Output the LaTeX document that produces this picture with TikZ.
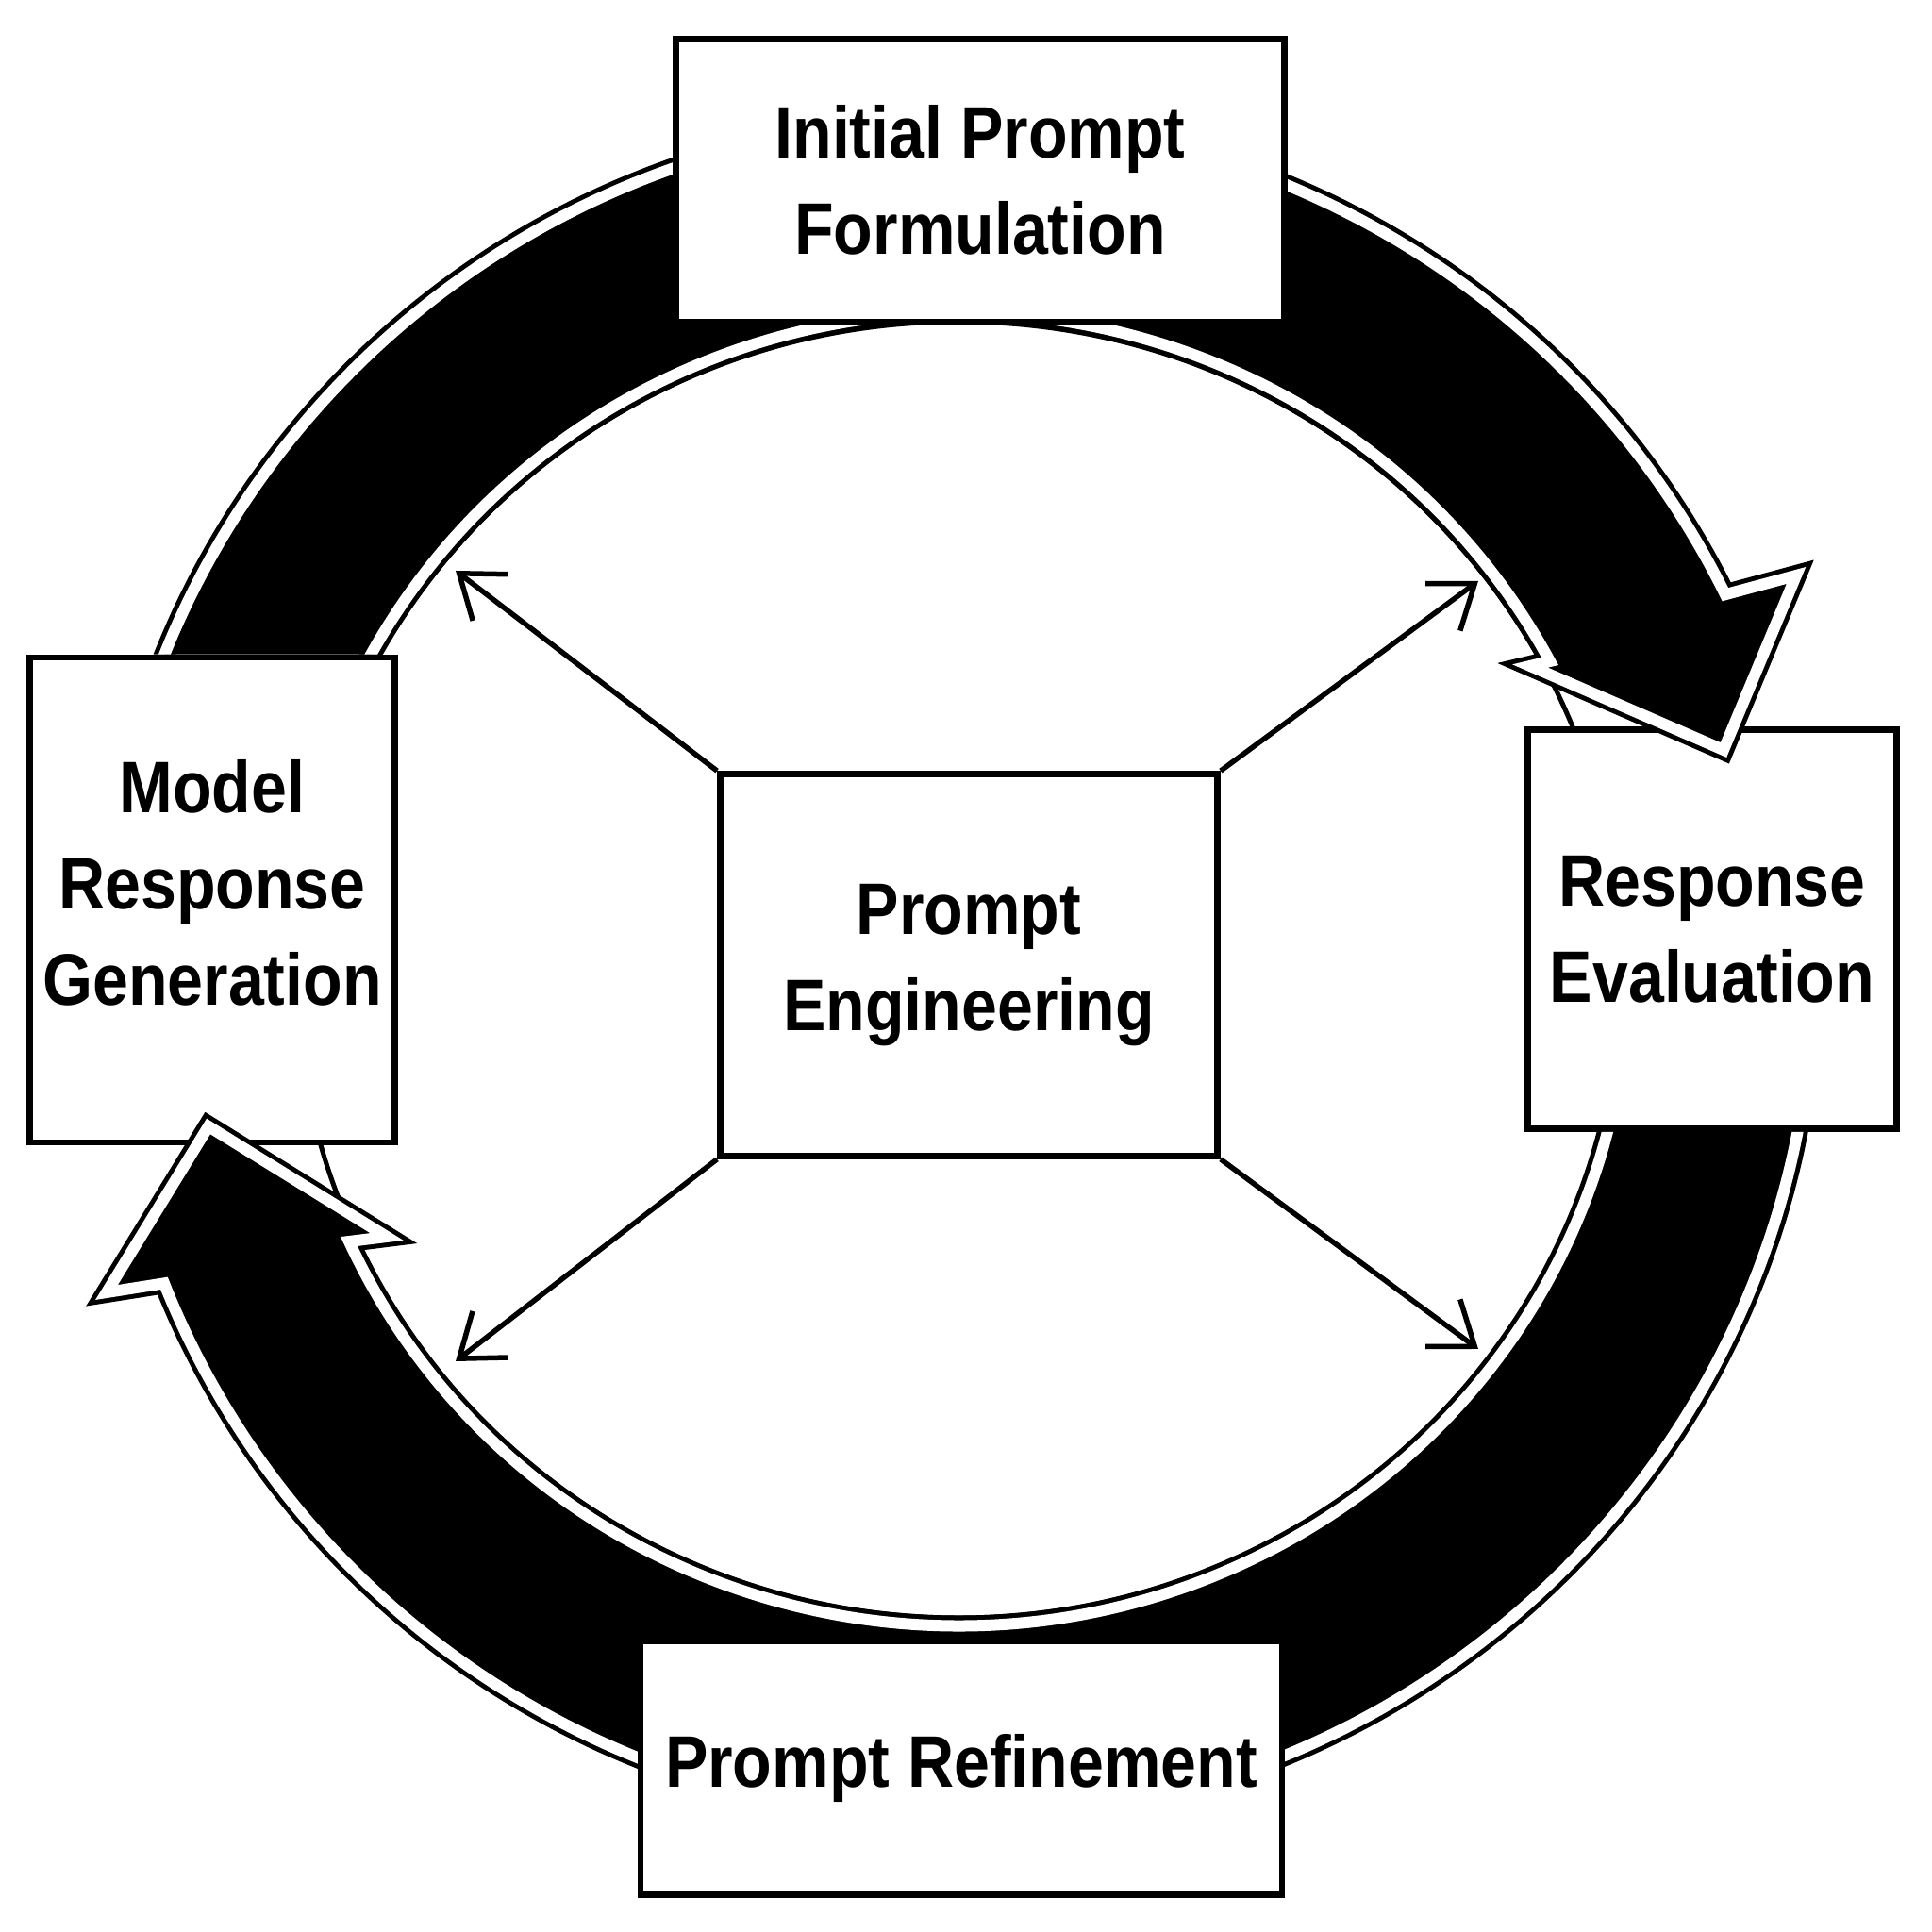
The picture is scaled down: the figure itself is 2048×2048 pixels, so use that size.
\documentclass[tikz,border=0pt]{standalone}
\usepackage{fontspec}
\setmainfont{Liberation Sans}[FakeStretch=0.88]
\usetikzlibrary{arrows.meta,calc}

\begin{document}
\begin{tikzpicture}[
    x=0.01cm, y=0.01cm,
    box/.style={rectangle, draw=black, fill=white, line width=0.065cm, align=center, font=\fontsize{22}{29}\selectfont\bfseries},
    label/.style={align=center, font=\fontsize{22}{29}\selectfont\bfseries},
    arrow/.style={-{Straight Barb[length=0.42cm, width=0.62cm]}, line width=0.055cm, black},
    ring/.style={draw=black, line width=0.05cm},
    band/.style={fill=black, draw=black, double=white, double distance=0.12cm, line width=0.05cm, miter limit=20},
]
\useasboundingbox (0,0) rectangle (2048,2048);
\coordinate (o) at (0,0);
\coordinate (top) at (2048,2048);
\coordinate (c) at (1016,1020);

% inner ring
\draw[ring] (c) ellipse [x radius=702, y radius=687];

% side boxes and the centre
\node[box, minimum width=3.87cm, minimum height=5.14cm] (gen) at (225,1094) {};
\node[label] (gentext) at ([yshift=0.18cm]gen.center) {Model\\Response\\Generation};
\node[box, minimum width=3.91cm, minimum height=4.23cm] (eval) at (1815,1063) {Response\\Evaluation};
\node[box, minimum width=5.27cm, minimum height=4.05cm] (eng) at (1027,1025) {Prompt\\Engineering};

% upper arrow, its tail hidden behind gen
\begin{scope}
\clip (o |- top) -- (top) -- (top |- o) -- (gen.north east |- o) -- (gen.north east) -- (gen.north east -| o) -- cycle;
\begin{scope}[shift={(c)}]
\filldraw[band] (-906,0) arc[start angle=180, end angle=26.2, x radius=906, y radius=901]
    -- (888,418) -- (811,233) -- (606,322) -- (627,327)
    arc[start angle=28, end angle=180, x radius=710, y radius=696] -- cycle;
\end{scope}
\end{scope}

% lower arrow, its tail hidden behind eval
\begin{scope}
\clip (o) -- (top |- o) -- (top |- eval.south west) -- (eval.south west) -- (eval.south west |- top) -- (o |- top) -- cycle;
\begin{scope}[shift={(c)}]
\filldraw[band] (906,0) arc[start angle=0, end angle=-158.35, x radius=906, y radius=901]
    -- (-903,-342) -- (-795,-166) -- (-606,-283) -- (-646,-288)
    arc[start angle=-155.5, end angle=0, x radius=710, y radius=696] -- cycle;
\end{scope}
\end{scope}

\node[box, minimum width=6.45cm, minimum height=3.0cm] (init) at (1039,1857) {Initial Prompt\\Formulation};
\node[box, minimum width=6.8cm, minimum height=2.69cm] (refine) at (1019,174) {Prompt Refinement};

% spokes from the centre
\coordinate (nw) at (483,1443);
\coordinate (ne) at (1567,1432);
\coordinate (sw) at (483,605);
\coordinate (se) at (1567,618);
\draw[arrow] (eng.north west) -- (nw);
\draw[arrow] (eng.north east) -- (ne);
\draw[arrow] (eng.south west) -- (sw);
\draw[arrow] (eng.south east) -- (se);
\end{tikzpicture}
\end{document}
